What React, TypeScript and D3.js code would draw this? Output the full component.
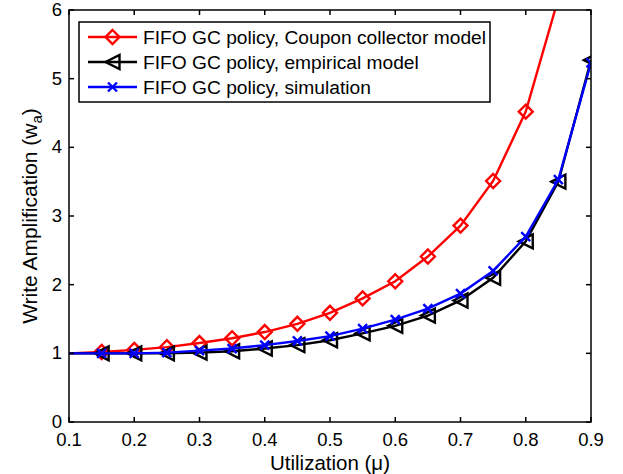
import { useEffect, useRef } from 'react';
import * as d3 from 'd3';

// utilization points (0.1 has no marker, only the line start)
const utilization = [0.1, 0.15, 0.2, 0.25, 0.3, 0.35, 0.4, 0.45, 0.5, 0.55, 0.6, 0.65, 0.7, 0.75, 0.8, 0.85, 0.9];

const couponCollector = [1, 1.02, 1.05, 1.09, 1.15, 1.22, 1.31, 1.43, 1.59, 1.8, 2.05, 2.41, 2.86, 3.51, 4.52, 6.17, 9.0];
const empiricalModel = [1, 1.0, 1.0, 1.0, 1.01, 1.03, 1.07, 1.12, 1.19, 1.29, 1.4, 1.55, 1.77, 2.1, 2.63, 3.5, 5.27];
const simulation = [1, 1.0, 1.0, 1.01, 1.04, 1.07, 1.12, 1.18, 1.25, 1.36, 1.49, 1.65, 1.87, 2.2, 2.7, 3.53, 5.23];

const xTicks = [0.1, 0.2, 0.3, 0.4, 0.5, 0.6, 0.7, 0.8, 0.9];
const yTicks = [0, 1, 2, 3, 4, 5, 6];

const seriesNames = [
  'FIFO GC policy, Coupon collector model',
  'FIFO GC policy, empirical model',
  'FIFO GC policy, simulation',
];
const seriesColors = ['#ff0000', '#000000', '#0000ff'];
const seriesMarkers = ['diamond', 'triangleLeft', 'cross'];

const FONT = '"Liberation Sans", Arial, Helvetica, sans-serif';

function markerPath(kind: string, s: number) {
  if (kind === 'diamond') return `M0,${-s}L${s},0L0,${s}L${-s},0Z`;
  if (kind === 'triangleLeft') return `M${-s},0L${s},${-s}L${s},${s}Z`;
  return `M${-s},${-s}L${s},${s}M${-s},${s}L${s},${-s}`;
}

export default function App() {
  const svgRef = useRef<SVGSVGElement>(null);

  useEffect(() => {
    if (!svgRef.current) return;
    const svg = d3.select(svgRef.current);
    svg.selectAll('*').remove();

    const left = 69, right = 591, top = 10, bottom = 422;

    const x = d3.scaleLinear().domain([0.1, 0.9]).range([left, right]);
    const y = d3.scaleLinear().domain([0, 6]).range([bottom, top]);

    svg.append('rect').attr('width', 623).attr('height', 474).attr('fill', '#fff');

    svg.append('defs').append('clipPath').attr('id', 'plot-clip')
      .append('rect')
      .attr('x', left).attr('y', top)
      .attr('width', right - left).attr('height', bottom - top);

    const allSeries = [couponCollector, empiricalModel, simulation];
    const line = d3.line<number>()
      .x((_, i) => x(utilization[i]))
      .y(d => y(d));

    const plot = svg.append('g').attr('clip-path', 'url(#plot-clip)');

    allSeries.forEach((values, si) => {
      const g = plot.append('g');
      g.append('path')
        .attr('d', line(values))
        .attr('fill', 'none')
        .attr('stroke', seriesColors[si])
        .attr('stroke-width', 2.4);

      g.selectAll('.mk')
        .data(values.slice(1))
        .enter()
        .append('path')
        .attr('transform', (d, i) => `translate(${x(utilization[i + 1])},${y(d)})`)
        .attr('d', markerPath(seriesMarkers[si], si === 2 ? 4.5 : 7))
        .attr('fill', 'none')
        .attr('stroke', seriesColors[si])
        .attr('stroke-width', 2.4);
    });

    // axes box and ticks (MATLAB style, ticks inside on all four sides)
    const axes = svg.append('g').attr('stroke', '#000').attr('stroke-width', 1.5);
    axes.append('rect')
      .attr('x', left).attr('y', top)
      .attr('width', right - left).attr('height', bottom - top)
      .attr('fill', 'none');

    const tl = 5;
    xTicks.forEach(t => {
      axes.append('line').attr('x1', x(t)).attr('x2', x(t)).attr('y1', bottom).attr('y2', bottom - tl);
      axes.append('line').attr('x1', x(t)).attr('x2', x(t)).attr('y1', top).attr('y2', top + tl);
    });
    yTicks.forEach(t => {
      axes.append('line').attr('x1', left).attr('x2', left + tl).attr('y1', y(t)).attr('y2', y(t));
      axes.append('line').attr('x1', right).attr('x2', right - tl).attr('y1', y(t)).attr('y2', y(t));
    });

    svg.selectAll('.xt')
      .data(xTicks)
      .enter()
      .append('text')
      .attr('x', d => x(d))
      .attr('y', bottom + 23.5)
      .attr('text-anchor', 'middle')
      .style('font-family', FONT)
      .style('font-size', '18.5px')
      .text(d => d.toFixed(1));

    svg.selectAll('.yt')
      .data(yTicks)
      .enter()
      .append('text')
      .attr('x', left - 7)
      .attr('y', d => y(d) + 6)
      .attr('text-anchor', 'end')
      .style('font-family', FONT)
      .style('font-size', '18.5px')
      .text(d => String(d));

    svg.append('text')
      .attr('x', (left + right) / 2)
      .attr('y', 469.5)
      .attr('text-anchor', 'middle')
      .style('font-family', FONT)
      .style('font-size', '20.5px')
      .text('Utilization (μ)');

    const yl = svg.append('text')
      .attr('transform', `translate(37,${(top + bottom) / 2}) rotate(-90)`)
      .attr('text-anchor', 'middle')
      .style('font-family', FONT)
      .style('font-size', '21px');
    yl.append('tspan').text('Write Amplification (w');
    yl.append('tspan').attr('dy', 5).style('font-size', '15px').text('a');
    yl.append('tspan').attr('dy', -5).text(')');

    // legend
    const lg = svg.append('g');
    lg.append('rect')
      .attr('x', 79).attr('y', 22)
      .attr('width', 411).attr('height', 80)
      .attr('fill', '#fff')
      .attr('stroke', '#000')
      .attr('stroke-width', 1.5);

    seriesNames.forEach((name, i) => {
      const ly = 37 + i * 25;
      lg.append('line')
        .attr('x1', 88).attr('x2', 137).attr('y1', ly).attr('y2', ly)
        .attr('stroke', seriesColors[i]).attr('stroke-width', 2.4);
      lg.append('path')
        .attr('transform', `translate(112.5,${ly})`)
        .attr('d', markerPath(seriesMarkers[i], i === 2 ? 4.5 : 7))
        .attr('fill', 'none')
        .attr('stroke', seriesColors[i])
        .attr('stroke-width', 2.4);
      lg.append('text')
        .attr('x', 143)
        .attr('y', ly + 7)
        .style('font-family', FONT)
        .style('font-size', '19.2px')
        .text(name);
    });
  }, []);

  return (
    <svg
      ref={svgRef}
      width={623}
      height={474}
      style={{ position: 'absolute', left: 0, top: 0, display: 'block' }}
    />
  );
}
